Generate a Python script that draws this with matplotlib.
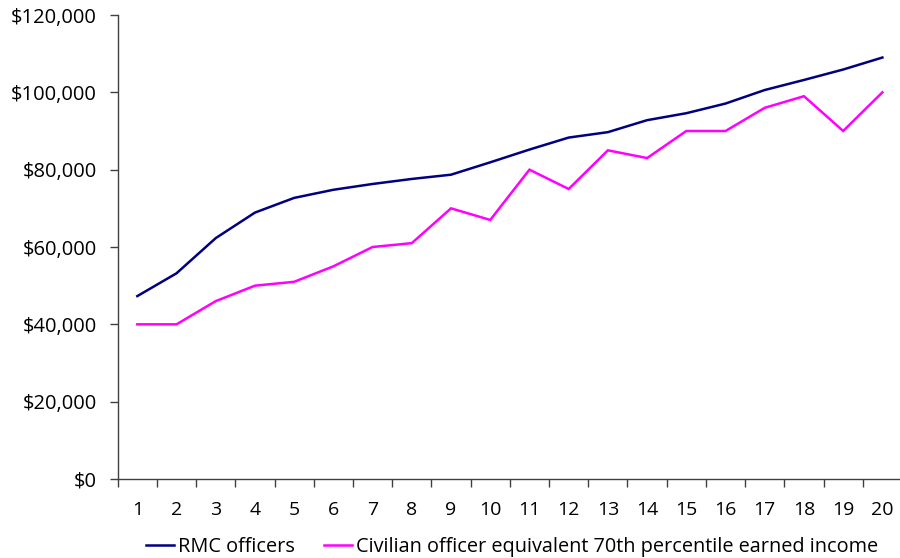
import matplotlib
matplotlib.use("Agg")
import matplotlib.pyplot as plt
from matplotlib.ticker import FuncFormatter, FixedLocator

plt.rcParams['font.family'] = ['Open Sans', 'DejaVu Sans']

years = list(range(1, 21))
rmc_officers = [47300, 53200, 62300, 68900, 72700, 74800, 76300, 77600, 78700, 81900,
                85200, 88300, 89700, 92800, 94600, 97100, 100600, 103200, 105900, 109000]
civilian_70th = [40000, 40000, 46000, 50000, 51000, 55000, 60000, 61000, 70000, 67000,
                 80000, 75000, 85000, 83000, 90000, 90000, 96000, 99000, 90000, 100000]
y_ticks = [0, 20000, 40000, 60000, 80000, 100000, 120000]

fig = plt.figure(figsize=(9, 5.58), dpi=100)
ax = fig.add_axes([117.7 / 900, 1 - 479 / 558, (902 - 117.7) / 900, (479 - 15) / 558])

ax.plot(years, rmc_officers, color='#000080', lw=1.8, label='RMC officers', solid_joinstyle='miter')
ax.plot(years, civilian_70th, color='#FF00FF', lw=1.8,
        label='Civilian officer equivalent 70th percentile earned income', solid_joinstyle='miter')

ax.set_xlim(0.5, 20.5)
ax.set_ylim(0, 120000)

# category axis: tick marks between categories, labels at category centres
ax.xaxis.set_major_locator(FixedLocator([i + 0.5 for i in range(0, 21)]))
ax.xaxis.set_minor_locator(FixedLocator(years))
ax.xaxis.set_major_formatter(FuncFormatter(lambda v, p: ''))
ax.xaxis.set_minor_formatter(FuncFormatter(lambda v, p: f'{int(round(v))}'))
ax.tick_params(axis='x', which='major', direction='out', length=6, width=1, color='#404040')
ax.tick_params(axis='x', which='minor', length=0, pad=16, labelsize=14)

ax.set_yticks(y_ticks)
ax.yaxis.set_major_formatter(FuncFormatter(lambda v, p: f'${int(v):,}'))
ax.tick_params(axis='y', direction='out', length=6, width=1, color='#404040', pad=9, labelsize=14.5)

for side in ('top', 'right'):
    ax.spines[side].set_visible(False)
for side in ('left', 'bottom'):
    ax.spines[side].set_color('#404040')
    ax.spines[side].set_linewidth(1)

fig.legend(loc='center', bbox_to_anchor=(512 / 900, 1 - 547 / 558), ncol=2, frameon=False,
           fontsize=14.3, handlelength=1.4, handletextpad=0.2, columnspacing=1.45,
           borderaxespad=0, borderpad=0)

fig.savefig('out.png', dpi=100)
